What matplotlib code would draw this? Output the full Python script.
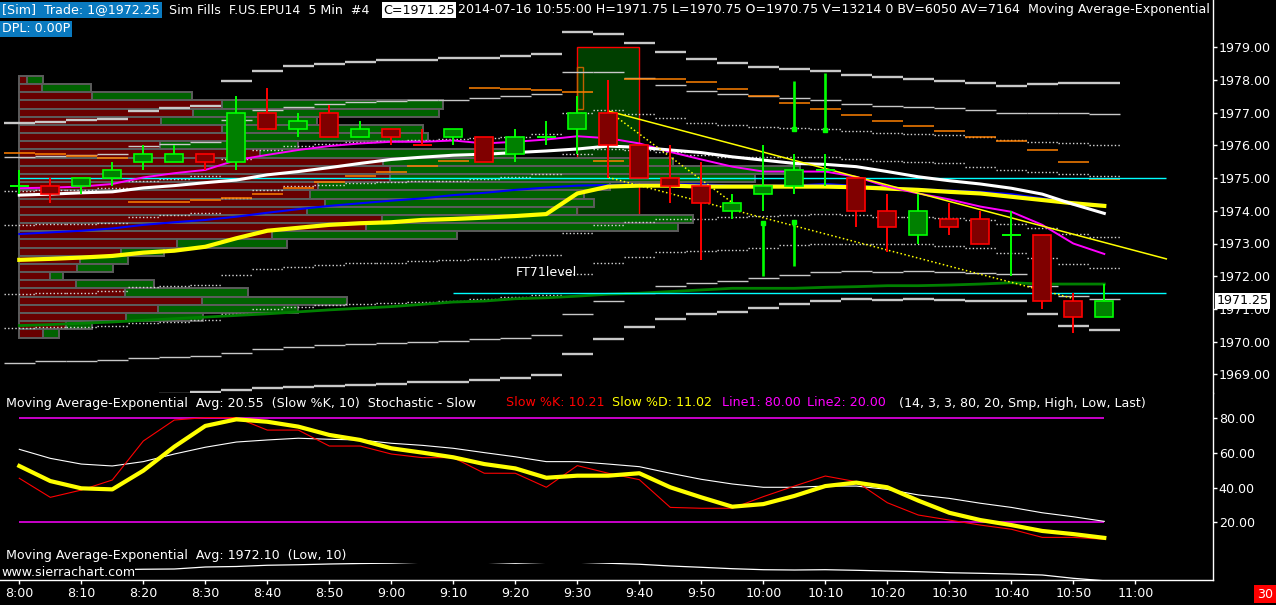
import numpy as np
import matplotlib
matplotlib.use("Agg")
import matplotlib.pyplot as plt
from matplotlib import font_manager
from matplotlib.patches import Rectangle
from matplotlib.transforms import blended_transform_factory

# ---------------- data ----------------
bars = np.arange(36)                     # 5 min bars 8:00 .. 10:55
time_ticks = np.arange(0, 37, 2)
time_labels = ["8:00", "8:10", "8:20", "8:30", "8:40", "8:50", "9:00", "9:10", "9:20",
               "9:30", "9:40", "9:50", "10:00", "10:10", "10:20", "10:30", "10:40",
               "10:50", "11:00"]
price_ticks = np.arange(1969, 1980)
stoch_ticks = [20, 40, 60, 80]

opens = [1974.75, 1974.75, 1974.75, 1975.0, 1975.5, 1975.5, 1975.75, 1975.5, 1977.0, 1976.5,
         1977.0, 1976.25, 1976.5, 1976.0, 1976.25, 1976.25, 1975.75, 1976.25, 1976.5, 1977.0,
         1976.0, 1975.0, 1974.75, 1974.0, 1974.5, 1974.75, 1975.25, 1975.0, 1974.0, 1973.25,
         1973.75, 1973.75, 1973.25, 1973.25, 1971.25, 1970.75]
closes = [1974.75, 1974.5, 1975.0, 1975.25, 1975.75, 1975.75, 1975.5, 1977.0, 1976.5, 1976.75,
          1976.25, 1976.5, 1976.25, 1976.0, 1976.5, 1975.5, 1976.25, 1976.25, 1977.0, 1976.0,
          1975.0, 1974.75, 1974.25, 1974.25, 1974.75, 1975.25, 1975.25, 1974.0, 1973.5, 1974.0,
          1973.5, 1973.0, 1973.25, 1971.25, 1970.75, 1971.25]
highs = [1975.25, 1975.0, 1975.0, 1975.5, 1976.0, 1976.0, 1975.75, 1977.5, 1977.75, 1977.0,
         1977.25, 1976.75, 1976.5, 1976.5, 1976.5, 1976.25, 1976.5, 1976.75, 1977.5, 1978.0,
         1976.0, 1976.0, 1975.5, 1974.5, 1976.0, 1975.75, 1975.75, 1975.0, 1974.5, 1974.5,
         1974.25, 1974.0, 1974.0, 1973.25, 1971.5, 1971.75]
lows = [1974.5, 1974.25, 1974.5, 1974.75, 1975.25, 1975.5, 1975.25, 1975.25, 1976.5, 1976.25,
        1976.25, 1976.25, 1976.0, 1976.0, 1976.0, 1975.5, 1975.5, 1976.0, 1975.75, 1975.0,
        1975.0, 1974.25, 1972.5, 1973.75, 1974.0, 1974.5, 1974.75, 1973.5, 1972.75, 1973.0,
        1973.25, 1973.0, 1972.0, 1971.0, 1970.25, 1970.75]

# volume profile, one row per tick from 1978.00 down to 1970.25
profile_price = np.arange(1978.0, 1970.0, -0.25)
bid_vol = [80, 230, 730, 2030, 1740, 1420, 2030, 2210, 1410, 2410, 3640, 3710, 3710, 2990,
           2910, 3060, 2880, 3630, 3470, 2530, 1580, 1020, 610, 580, 310, 570, 1060, 1830,
           1390, 1070, 470, 240]
ask_vol = [160, 490, 1000, 2210, 2460, 1560, 2010, 1880, 1380, 2550, 2900, 4100, 3650, 2920,
           2740, 2690, 2700, 3110, 3120, 1850, 1100, 430, 480, 360, 130, 780, 1230, 1450,
           1400, 770, 260, 160]

# per-bar band levels
band_upper_outer = [1976.70, 1976.72, 1976.77, 1976.80, 1977.06, 1977.15, 1977.20, 1977.98,
                    1978.28, 1978.44, 1978.50, 1978.56, 1978.60, 1978.62, 1978.68, 1978.68,
                    1978.73, 1978.80, 1979.48, 1979.41, 1979.13, 1978.86, 1978.64, 1978.53,
                    1978.40, 1978.34, 1978.28, 1978.16, 1978.10, 1978.04, 1977.98, 1977.92,
                    1977.83, 1977.89, 1977.92, 1977.92]
band_upper_inner = [1975.64, 1975.68, 1975.71, 1975.73, 1975.97, 1976.03, 1976.09, 1976.77,
                    1977.07, 1977.18, 1977.26, 1977.32, 1977.35, 1977.40, 1977.40, 1977.44,
                    1977.51, 1977.57, 1978.24, 1978.24, 1978.05, 1977.85, 1977.65, 1977.57,
                    1977.51, 1977.44, 1977.38, 1977.28, 1977.22, 1977.17, 1977.13, 1977.07,
                    1976.98, 1976.98, 1976.98, 1976.95]
band_lower_inner = [1969.34, 1969.40, 1969.40, 1969.44, 1969.49, 1969.52, 1969.55, 1969.64,
                    1969.76, 1969.83, 1969.89, 1969.92, 1969.95, 1969.98, 1970.01, 1970.07,
                    1970.10, 1970.19, 1970.84, 1971.23, 1971.50, 1971.69, 1971.78, 1971.84,
                    1971.93, 1972.03, 1972.12, 1972.15, 1972.12, 1972.15, 1972.12, 1972.09,
                    1972.06, 1971.71, 1971.39, 1971.30]
band_lower_outer = [1968.30, 1968.32, 1968.34, 1968.36, 1968.38, 1968.41, 1968.46, 1968.52,
                    1968.59, 1968.62, 1968.65, 1968.68, 1968.71, 1968.77, 1968.77, 1968.83,
                    1968.90, 1968.99, 1969.63, 1970.09, 1970.46, 1970.70, 1970.85, 1970.91,
                    1971.04, 1971.16, 1971.24, 1971.31, 1971.28, 1971.31, 1971.28, 1971.25,
                    1971.25, 1970.85, 1970.49, 1970.36]
dot_1 = [1974.60, 1974.63, 1974.63, 1974.69, 1974.90, 1974.96, 1975.05, 1975.57, 1975.85,
         1975.97, 1976.03, 1976.09, 1976.13, 1976.17, 1976.21, 1976.23, 1976.25, 1976.34,
         1976.98, 1977.07, 1976.95, 1976.83, 1976.68, 1976.61, 1976.55, 1976.52, 1976.51,
         1976.45, 1976.37, 1976.34, 1976.31, 1976.25, 1976.16, 1976.10, 1976.06, 1976.00]
dot_2 = [1973.56, 1973.59, 1973.59, 1973.62, 1973.80, 1973.86, 1973.92, 1974.38, 1974.63,
         1974.75, 1974.80, 1974.85, 1974.87, 1974.92, 1974.92, 1974.96, 1975.03, 1975.12,
         1975.75, 1975.90, 1975.86, 1975.79, 1975.70, 1975.65, 1975.64, 1975.64, 1975.64,
         1975.57, 1975.51, 1975.48, 1975.45, 1975.33, 1975.24, 1975.18, 1975.12, 1975.06]
dot_3 = [1971.45, 1971.48, 1971.48, 1971.54, 1971.66, 1971.69, 1971.72, 1972.03, 1972.21,
         1972.27, 1972.33, 1972.39, 1972.39, 1972.46, 1972.49, 1972.52, 1972.58, 1972.64,
         1973.31, 1973.57, 1973.67, 1973.74, 1973.74, 1973.82, 1973.84, 1973.87, 1973.90,
         1973.87, 1973.81, 1973.81, 1973.78, 1973.72, 1973.60, 1973.46, 1973.30, 1973.20]
dot_4 = [1970.41, 1970.44, 1970.44, 1970.47, 1970.56, 1970.59, 1970.65, 1970.84, 1970.99,
         1971.05, 1971.11, 1971.14, 1971.17, 1971.20, 1971.23, 1971.29, 1971.35, 1971.42,
         1972.06, 1972.39, 1972.60, 1972.73, 1972.76, 1972.79, 1972.85, 1972.94, 1973.00,
         1972.97, 1972.97, 1972.97, 1972.91, 1972.85, 1972.70, 1972.56, 1972.38, 1972.26]
nan = np.nan
orange_hi = [1975.76, 1975.73, 1975.69, 1975.60, nan, nan, nan, nan, nan, nan, nan, nan, nan,
             nan, nan, 1977.75, 1977.72, 1977.69, 1977.62, nan, 1978.02, 1978.02, 1977.93,
             1977.72, 1977.50, 1977.30, 1977.10, 1976.92, 1976.74, 1976.58, 1976.43, 1976.25,
             1976.13, 1975.85, 1975.48, 1974.96]
orange_lo = [nan, nan, nan, nan, 1974.26, 1974.28, 1974.32, 1974.38, 1974.50, 1974.70, 1974.87,
             1975.06, 1975.20, 1975.37, 1975.51, nan, nan, nan, nan, 1975.51, nan, nan, nan,
             nan, nan, nan, nan, nan, nan, nan, nan, nan, nan, nan, nan, nan]

# moving averages
ma_white = [1974.48, 1974.51, 1974.55, 1974.58, 1974.70, 1974.77, 1974.86, 1974.94, 1975.10,
            1975.20, 1975.32, 1975.45, 1975.57, 1975.64, 1975.70, 1975.73, 1975.78, 1975.83,
            1975.89, 1975.98, 1975.94, 1975.86, 1975.78, 1975.65, 1975.55, 1975.45, 1975.42,
            1975.35, 1975.20, 1975.04, 1974.92, 1974.82, 1974.69, 1974.51, 1974.20, 1973.92]
ma_yellow = [1972.50, 1972.53, 1972.57, 1972.62, 1972.72, 1972.78, 1972.90, 1973.16, 1973.39,
             1973.48, 1973.57, 1973.62, 1973.65, 1973.72, 1973.75, 1973.79, 1973.84, 1973.90,
             1974.53, 1974.74, 1974.77, 1974.77, 1974.74, 1974.74, 1974.74, 1974.74, 1974.74,
             1974.72, 1974.68, 1974.64, 1974.58, 1974.53, 1974.43, 1974.33, 1974.23, 1974.15]
ma_blue = [1973.29, 1973.34, 1973.39, 1973.46, 1973.57, 1973.65, 1973.72, 1973.82, 1973.94,
           1974.05, 1974.15, 1974.23, 1974.31, 1974.38, 1974.48, 1974.55, 1974.64, 1974.71,
           1974.77, 1974.79, 1974.81, 1974.81, 1974.81, 1974.77, 1974.77, 1974.77, 1974.82,
           1974.76, 1974.72, 1974.66, 1974.62, 1974.58, 1974.51, 1974.38, 1974.25, 1974.18]
ma_magenta = [1974.69, 1974.71, 1974.74, 1974.82, 1975.02, 1975.15, 1975.25, 1975.55, 1975.71,
              1975.86, 1975.98, 1976.06, 1976.11, 1976.11, 1976.15, 1976.06, 1976.11, 1976.18,
              1976.28, 1976.22, 1976.06, 1975.80, 1975.57, 1975.35, 1975.20, 1975.20, 1975.20,
              1975.04, 1974.74, 1974.53, 1974.35, 1974.13, 1973.97, 1973.57, 1973.00, 1972.68]
green_line = [1970.49, 1970.52, 1970.56, 1970.60, 1970.65, 1970.70, 1970.75, 1970.80, 1970.85,
              1970.91, 1970.97, 1971.02, 1971.07, 1971.14, 1971.21, 1971.24, 1971.31, 1971.34,
              1971.39, 1971.45, 1971.48, 1971.53, 1971.58, 1971.63, 1971.63, 1971.63, 1971.66,
              1971.68, 1971.71, 1971.71, 1971.73, 1971.76, 1971.80, 1971.76, 1971.76, 1971.76]

# green vertical markers (bar, low, high, end with the square)
marker_bar = [24, 25, 25, 26]
marker_lo = [1972.02, 1972.32, 1976.49, 1976.47]
marker_hi = [1973.62, 1973.67, 1977.97, 1978.22]
marker_cap = [1973.62, 1973.67, 1976.49, 1976.47]

# drawings
cyan_levels = [1975.0, 1971.5]
cyan_start = [0.0, 14.0]
cyan_end = 37.0
trend_solid = ([19.0, 37.0], [1977.05, 1972.53])
trend_dot_a = ([19.0, 23.2], [1977.05, 1974.11])
trend_dot_b = ([19.0, 34.0], [1975.02, 1971.32])
box_time = (18.0, 20.0)
box_price = (1973.875, 1979.0)
small_box_time = (18.0, 18.2)
small_box_price = (1977.1, 1978.4)

# stochastic panel
slow_k = [45.4, 34.4, 38.6, 44.4, 66.9, 79.0, 80.4, 80.4, 73.2, 73.2, 64.0, 64.0, 59.4, 57.3,
          57.3, 48.3, 48.3, 40.2, 52.7, 48.3, 44.6, 28.6, 28.1, 28.1, 34.8, 40.9, 46.7, 43.4,
          31.3, 24.2, 21.3, 18.4, 16.0, 11.3, 11.3, 10.21]
slow_d = [52.5, 43.8, 39.6, 39.0, 49.8, 63.6, 75.6, 79.4, 78.0, 75.2, 70.4, 67.5, 62.7, 60.2,
          57.5, 53.6, 51.1, 45.7, 46.9, 46.9, 48.3, 40.2, 34.4, 29.0, 30.5, 35.2, 40.9, 42.9,
          40.2, 32.5, 25.5, 21.3, 18.4, 15.0, 13.2, 11.02]
ema_k = [62.1, 56.9, 53.6, 52.5, 55.0, 59.4, 63.3, 66.3, 67.5, 68.5, 67.9, 67.5, 65.6, 64.4,
         62.7, 60.2, 57.8, 55.0, 55.0, 53.6, 52.1, 48.3, 44.8, 42.1, 40.2, 40.2, 40.9, 40.9,
         39.0, 35.8, 33.8, 31.0, 28.6, 25.5, 23.2, 20.55]
stoch_lines = [80, 20]

# EMA of lows (bottom strip)
ema_low = [1974.05, 1974.10, 1974.20, 1974.30, 1974.40, 1974.45, 1974.85, 1974.95, 1975.20,
           1975.30, 1975.45, 1975.55, 1975.62, 1975.80, 1975.88, 1975.80, 1975.60, 1975.78,
           1975.80, 1975.60, 1975.40, 1975.05, 1974.79, 1974.51, 1974.31, 1974.25, 1974.31,
           1974.19, 1974.05, 1973.91, 1973.71, 1973.59, 1973.45, 1973.25, 1972.59, 1972.10]

# ---------------- layout ----------------
W, H = 1276, 605
X0_PX, BAR_PX = 19.3, 31.0          # pixel of bar 0, pixels per bar
AXIS_PX = 1213                      # price scale line
MAIN_BOTTOM, LOW_BOTTOM, STRIP_TOP = 393, 580, 562.5
VOL_PER_BAR = 310.0

names = {f.name for f in font_manager.fontManager.ttflist}
if "Liberation Sans Narrow" in names:
    FONT, FS = "Liberation Sans Narrow", 12.0
else:
    FONT, FS = "DejaVu Sans", 9.1
plt.rcParams["font.family"] = [FONT, "DejaVu Sans"]

BG = "black"
GRAY = "#c8c8c8"
DOTS = (0, (1, 1.6))


def fx(px):
    return px / W


def fy(py):
    return 1 - py / H


fig = plt.figure(figsize=(W / 100, H / 100), dpi=100, facecolor=BG)
ax = fig.add_axes([0, fy(MAIN_BOTTOM), fx(AXIS_PX), MAIN_BOTTOM / H], facecolor=BG)
ax2 = fig.add_axes([0, fy(LOW_BOTTOM), fx(AXIS_PX), (LOW_BOTTOM - MAIN_BOTTOM) / H],
                   facecolor=BG, sharex=ax)
ax3 = fig.add_axes([0, fy(LOW_BOTTOM), fx(AXIS_PX), (LOW_BOTTOM - STRIP_TOP) / H],
                   facecolor="none", sharex=ax)

ax.set_xlim(-X0_PX / BAR_PX, (AXIS_PX - X0_PX) / BAR_PX)
ax.set_ylim(1979.0 - (MAIN_BOTTOM - 47.3) / 32.7, 1979.0 + 47.3 / 32.7)
ax2.set_ylim(20 - (LOW_BOTTOM - 522.3) / 1.7333, 80 + (418.3 - MAIN_BOTTOM) / 1.7333)
ax3.set_ylim(1972.25, 1975.75)

# ---------------- main price panel ----------------
ax.add_patch(Rectangle((box_time[0], box_price[0]), box_time[1] - box_time[0],
                       box_price[1] - box_price[0], facecolor="#003f00",
                       edgecolor="#ff0000", lw=1.0, zorder=1))

bid_w = np.array(bid_vol) / VOL_PER_BAR
ask_w = np.array(ask_vol) / VOL_PER_BAR
ax.barh(profile_price, bid_w, left=0, height=0.25, color="#680000",
        edgecolor="#5c5c5c", lw=1.4, zorder=2)
ax.barh(profile_price, ask_w, left=bid_w, height=0.25, color="#006200",
        edgecolor="#5c5c5c", lw=1.4, zorder=2)

ax.add_patch(Rectangle((small_box_time[0], small_box_price[0]),
                       small_box_time[1] - small_box_time[0],
                       small_box_price[1] - small_box_price[0], facecolor="none",
                       edgecolor="#c06000", lw=1.0, zorder=3))

left, right = bars - 0.5, bars + 0.5
ax.hlines(band_upper_outer, left, right, colors=GRAY, lw=1.7, zorder=3)
ax.hlines(band_lower_outer, left, right, colors=GRAY, lw=1.7, zorder=3)
ax.hlines(band_upper_inner, left, right, colors=GRAY, lw=1.0, zorder=3)
ax.hlines(band_lower_inner, left, right, colors=GRAY, lw=1.0, zorder=3)
for d in (dot_1, dot_2, dot_3, dot_4):
    ax.hlines(d, left, right, colors="#d8d8d8", lw=1.0, linestyles=DOTS, zorder=3)
ax.hlines(orange_hi, left, right, colors="#ff8000", lw=1.1, zorder=3)
ax.hlines(orange_lo, left, right, colors="#ff8000", lw=1.1, zorder=3)

ax.plot(bars, green_line, color="#008000", lw=2.0, zorder=4)
ax.hlines(cyan_levels, cyan_start, cyan_end, colors="#00ffff", lw=1.0, zorder=4)

ax.plot(bars, ma_blue, color="#0000ff", lw=1.5, zorder=5)
ax.plot(bars, ma_yellow, color="#ffff00", lw=3.0, zorder=5)
ax.plot(bars, ma_magenta, color="#ff00ff", lw=1.4, zorder=5)
ax.plot(bars, ma_white, color="white", lw=2.2, zorder=5)

ax.plot(*trend_solid, color="#ffff00", lw=1.1, zorder=6)
ax.plot(*trend_dot_a, color="#ffff00", lw=1.1, ls=DOTS, zorder=6)
ax.plot(*trend_dot_b, color="#ffff00", lw=1.1, ls=DOTS, zorder=6)

o, c = np.array(opens), np.array(closes)
prev = np.concatenate([[c[0]], c[:-1]])
up = (c > o) | ((c == o) & (c >= prev))
fill = np.where(up, "#008000", "#800000")
edge = np.where(up, "#00ff00", "#ff0000")
ax.vlines(bars, lows, highs, colors=edge, lw=1.4, zorder=8)
ax.bar(bars, np.abs(c - o), bottom=np.minimum(o, c), width=0.58, color=fill,
       edgecolor=edge, lw=1.2, zorder=9)
doji = c == o
ax.hlines(c[doji], bars[doji] - 0.3, bars[doji] + 0.3, colors=edge[doji], lw=1.4, zorder=9)

ax.vlines(marker_bar, marker_lo, marker_hi, colors="#00ff00", lw=1.9, zorder=10)
ax.plot(marker_bar, marker_cap, ls="none", marker="s", ms=3.5, color="#00ff00", zorder=10)

ax.text(16.0, 1972.12, "FT71level", color="white", fontsize=FS, va="center",
        ha="left", zorder=11)

# ---------------- stochastic panel ----------------
ax2.hlines(stoch_lines, bars[0], bars[-1], colors="#ff00ff", lw=1.1)
ax2.plot(bars, ema_k, color="white", lw=0.8)
ax2.plot(bars, slow_k, color="#ff0000", lw=0.8)
ax2.plot(bars, slow_d, color="#ffff00", lw=3.0)

# ---------------- EMA of lows strip ----------------
ax3.plot(bars, ema_low, color="white", lw=0.9)
ax3.axis("off")

# ---------------- axes styling ----------------
for a in (ax, ax2):
    for side in ("left", "top", "bottom"):
        a.spines[side].set_visible(False)
    a.spines["right"].set_color("white")
    a.spines["right"].set_linewidth(1.0)
    a.yaxis.tick_right()
    a.tick_params(axis="y", colors="white", length=3, width=1.0, pad=1.2,
                  labelsize=FS, right=True, left=False)
ax2.spines["bottom"].set_visible(True)
ax2.spines["bottom"].set_color("white")
ax2.spines["bottom"].set_linewidth(1.0)

ax.set_yticks(price_ticks)
ax.set_yticklabels([f"{p:.2f}" for p in price_ticks])
ax2.set_yticks(stoch_ticks)
ax2.set_yticklabels([f"{v:.2f}" for v in stoch_ticks])
ax.tick_params(axis="x", bottom=False, labelbottom=False)
ax3.tick_params(axis="x", bottom=False, labelbottom=False)
ax2.set_xticks(time_ticks)
ax2.set_xticklabels(time_labels)
ax2.tick_params(axis="x", colors="white", length=3, width=1.0, pad=2, labelsize=FS)

# last price label on the scale
blend = blended_transform_factory(ax.transAxes, ax.transData)
ax.text(1.003, closes[-1], f"{closes[-1]:.2f}", transform=blend, color="black",
        fontsize=FS, va="center", ha="left", clip_on=False, zorder=20,
        bbox=dict(boxstyle="square,pad=0.12", fc="white", ec="none"))

# ---------------- header texts ----------------
BLUE = "#0a7ac0"
kw = dict(fontsize=FS, va="center", ha="left")
fig.text(fx(2), fy(10), "[Sim]  Trade: 1@1972.25", color="white",
         bbox=dict(boxstyle="square,pad=0.15", fc=BLUE, ec="none"), **kw)
fig.text(fx(169), fy(10), "Sim Fills  F.US.EPU14  5 Min  #4", color="white", **kw)
fig.text(fx(383), fy(10), "C=1971.25", color="black",
         bbox=dict(boxstyle="square,pad=0.1", fc="white", ec="none"), **kw)
t = ax.text(fx(458), fy(10), "2014-07-16 10:55:00 H=1971.75 L=1970.75 O=1970.75 "
            "V=13214 0 BV=6050 AV=7164  Moving Average-Exponential  Avg: 1975.48",
            transform=fig.transFigure, color="white", zorder=20, **kw)
t.set_clip_box(ax.bbox)
t.set_clip_on(True)
fig.text(fx(2), fy(29), "DPL: 0.00P", color="white",
         bbox=dict(boxstyle="square,pad=0.12", fc=BLUE, ec="none"), **kw)

fig.text(fx(6), fy(403), "Moving Average-Exponential  Avg: 20.55  (Slow %K, 10)  "
         "Stochastic - Slow", color="white", **kw)
fig.text(fx(506), fy(403), "Slow %K: 10.21", color="#ff0000", **kw)
fig.text(fx(612), fy(403), "Slow %D: 11.02", color="#ffff00", **kw)
fig.text(fx(722), fy(403), "Line1: 80.00", color="#ff00ff", **kw)
fig.text(fx(807), fy(403), "Line2: 20.00", color="#ff00ff", **kw)
fig.text(fx(899), fy(403), "(14, 3, 3, 80, 20, Smp, High, Low, Last)", color="white", **kw)

fig.text(fx(6), fy(555), "Moving Average-Exponential  Avg: 1972.10  (Low, 10)",
         color="white", **kw)
fig.text(fx(1), fy(572), "www.sierrachart.com", color="white", zorder=20,
         bbox=dict(boxstyle="square,pad=0.0", fc=BG, ec="none"), **kw)

fig.text(fx(1257), fy(594), "30", color="white",
         bbox=dict(boxstyle="square,pad=0.2", fc="#ff0000", ec="none"), **kw)

fig.savefig("out.png", dpi=100, facecolor=BG)
